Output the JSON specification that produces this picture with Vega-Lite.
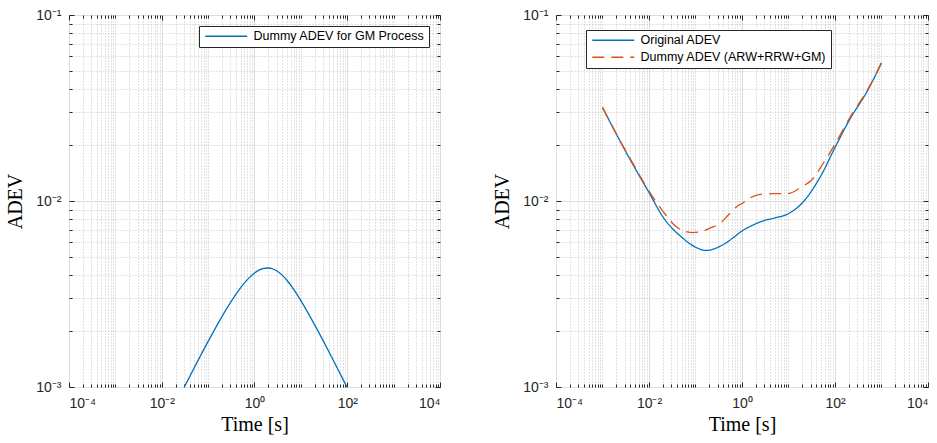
{
  "$schema": "https://vega.github.io/schema/vega-lite/v6.json",
  "background": "white",
  "padding": {"left": 5, "top": 7, "right": 5, "bottom": 5},
  "spacing": 51,
  "datasets": {
    "gm": [
      {"tau": 0.01, "adev": 0.000575, "series": "Dummy ADEV for GM Process"},
      {"tau": 0.02, "adev": 0.00081, "series": "Dummy ADEV for GM Process"},
      {"tau": 0.03, "adev": 0.000989, "series": "Dummy ADEV for GM Process"},
      {"tau": 0.05, "adev": 0.001267, "series": "Dummy ADEV for GM Process"},
      {"tau": 0.1, "adev": 0.001758, "series": "Dummy ADEV for GM Process"},
      {"tau": 0.2, "adev": 0.002399, "series": "Dummy ADEV for GM Process"},
      {"tau": 0.3, "adev": 0.002834, "series": "Dummy ADEV for GM Process"},
      {"tau": 0.5, "adev": 0.003413, "series": "Dummy ADEV for GM Process"},
      {"tau": 0.7, "adev": 0.003776, "series": "Dummy ADEV for GM Process"},
      {"tau": 1, "adev": 0.0041, "series": "Dummy ADEV for GM Process"},
      {"tau": 1.5, "adev": 0.004328, "series": "Dummy ADEV for GM Process"},
      {"tau": 2, "adev": 0.004363, "series": "Dummy ADEV for GM Process"},
      {"tau": 2.5, "adev": 0.00431, "series": "Dummy ADEV for GM Process"},
      {"tau": 3, "adev": 0.004214, "series": "Dummy ADEV for GM Process"},
      {"tau": 4, "adev": 0.003982, "series": "Dummy ADEV for GM Process"},
      {"tau": 5, "adev": 0.003749, "series": "Dummy ADEV for GM Process"},
      {"tau": 7, "adev": 0.003351, "series": "Dummy ADEV for GM Process"},
      {"tau": 10, "adev": 0.002916, "series": "Dummy ADEV for GM Process"},
      {"tau": 20, "adev": 0.002151, "series": "Dummy ADEV for GM Process"},
      {"tau": 30, "adev": 0.00178, "series": "Dummy ADEV for GM Process"},
      {"tau": 50, "adev": 0.001393, "series": "Dummy ADEV for GM Process"},
      {"tau": 100, "adev": 0.000992, "series": "Dummy ADEV for GM Process"},
      {"tau": 200, "adev": 0.000704, "series": "Dummy ADEV for GM Process"}
    ],
    "cmp": [
      {"tau": 0.001, "adev": 0.0318, "series": "Original ADEV"},
      {"tau": 0.002, "adev": 0.0228, "series": "Original ADEV"},
      {"tau": 0.005, "adev": 0.015, "series": "Original ADEV"},
      {"tau": 0.01, "adev": 0.0111, "series": "Original ADEV"},
      {"tau": 0.02, "adev": 0.0082, "series": "Original ADEV"},
      {"tau": 0.05, "adev": 0.0064, "series": "Original ADEV"},
      {"tau": 0.1, "adev": 0.00565, "series": "Original ADEV"},
      {"tau": 0.17, "adev": 0.00542, "series": "Original ADEV"},
      {"tau": 0.3, "adev": 0.00563, "series": "Original ADEV"},
      {"tau": 0.5, "adev": 0.00605, "series": "Original ADEV"},
      {"tau": 0.7, "adev": 0.00645, "series": "Original ADEV"},
      {"tau": 1, "adev": 0.0069, "series": "Original ADEV"},
      {"tau": 1.5, "adev": 0.0073, "series": "Original ADEV"},
      {"tau": 2, "adev": 0.00755, "series": "Original ADEV"},
      {"tau": 3, "adev": 0.00785, "series": "Original ADEV"},
      {"tau": 5, "adev": 0.0081, "series": "Original ADEV"},
      {"tau": 10, "adev": 0.00855, "series": "Original ADEV"},
      {"tau": 20, "adev": 0.0098, "series": "Original ADEV"},
      {"tau": 50, "adev": 0.0137, "series": "Original ADEV"},
      {"tau": 100, "adev": 0.0194, "series": "Original ADEV"},
      {"tau": 200, "adev": 0.027, "series": "Original ADEV"},
      {"tau": 500, "adev": 0.0392, "series": "Original ADEV"},
      {"tau": 1000, "adev": 0.0552, "series": "Original ADEV"},
      {"tau": 0.001, "adev": 0.0319, "series": "Dummy ADEV (ARW+RRW+GM)"},
      {"tau": 0.002, "adev": 0.0229, "series": "Dummy ADEV (ARW+RRW+GM)"},
      {"tau": 0.005, "adev": 0.0152, "series": "Dummy ADEV (ARW+RRW+GM)"},
      {"tau": 0.01, "adev": 0.0113, "series": "Dummy ADEV (ARW+RRW+GM)"},
      {"tau": 0.02, "adev": 0.0088, "series": "Dummy ADEV (ARW+RRW+GM)"},
      {"tau": 0.04, "adev": 0.00722, "series": "Dummy ADEV (ARW+RRW+GM)"},
      {"tau": 0.087, "adev": 0.00676, "series": "Dummy ADEV (ARW+RRW+GM)"},
      {"tau": 0.15, "adev": 0.0069, "series": "Dummy ADEV (ARW+RRW+GM)"},
      {"tau": 0.2, "adev": 0.00713, "series": "Dummy ADEV (ARW+RRW+GM)"},
      {"tau": 0.35, "adev": 0.00764, "series": "Dummy ADEV (ARW+RRW+GM)"},
      {"tau": 0.5, "adev": 0.00838, "series": "Dummy ADEV (ARW+RRW+GM)"},
      {"tau": 0.8, "adev": 0.0094, "series": "Dummy ADEV (ARW+RRW+GM)"},
      {"tau": 1, "adev": 0.0097, "series": "Dummy ADEV (ARW+RRW+GM)"},
      {"tau": 1.4, "adev": 0.0103, "series": "Dummy ADEV (ARW+RRW+GM)"},
      {"tau": 2, "adev": 0.01072, "series": "Dummy ADEV (ARW+RRW+GM)"},
      {"tau": 3, "adev": 0.0109, "series": "Dummy ADEV (ARW+RRW+GM)"},
      {"tau": 5, "adev": 0.01095, "series": "Dummy ADEV (ARW+RRW+GM)"},
      {"tau": 10, "adev": 0.01097, "series": "Dummy ADEV (ARW+RRW+GM)"},
      {"tau": 20, "adev": 0.012, "series": "Dummy ADEV (ARW+RRW+GM)"},
      {"tau": 30, "adev": 0.0128, "series": "Dummy ADEV (ARW+RRW+GM)"},
      {"tau": 60, "adev": 0.0164, "series": "Dummy ADEV (ARW+RRW+GM)"},
      {"tau": 100, "adev": 0.0202, "series": "Dummy ADEV (ARW+RRW+GM)"},
      {"tau": 200, "adev": 0.0276, "series": "Dummy ADEV (ARW+RRW+GM)"},
      {"tau": 500, "adev": 0.0396, "series": "Dummy ADEV (ARW+RRW+GM)"},
      {"tau": 1000, "adev": 0.0554, "series": "Dummy ADEV (ARW+RRW+GM)"}
    ]
  },
  "hconcat": [
    {
      "width": 371,
      "height": 372,
      "layer": [
        {
          "data": {"name": "gm"},
          "mark": {"type": "line", "opacity": 0},
          "encoding": {
            "x": {"field": "tau", "type": "quantitative", "scale": {"type": "log", "domain": [0.0001, 10000], "nice": false},
              "axis": {"orient": "bottom", "values": [0.0002,0.0003,0.0004,0.0005,0.0006,0.0007,0.0008,0.0009,0.001,0.002,0.003,0.004,0.005,0.006,0.007,0.008,0.009,0.02,0.03,0.04,0.05,0.06,0.07,0.08,0.09,0.1,0.2,0.3,0.4,0.5,0.6,0.7,0.8,0.9,2,3,4,5,6,7,8,9,10,20,30,40,50,60,70,80,90,200,300,400,500,600,700,800,900,1000,2000,3000,4000,5000,6000,7000,8000,9000], "grid": true, "gridDash": [1, 2], "gridColor": "#c4c4c4", "labels": false, "tickSize": -3, "title": null}},
            "y": {"field": "adev", "type": "quantitative", "scale": {"type": "log", "domain": [0.001, 0.1], "nice": false},
              "axis": {"orient": "left", "values": [0.002,0.003,0.004,0.005,0.006,0.007,0.008,0.009,0.02,0.03,0.04,0.05,0.06,0.07,0.08,0.09], "grid": true, "gridDash": [1, 2], "gridColor": "#c4c4c4", "labels": false, "tickSize": -3, "title": null}}
          }
        },
        {
          "data": {"name": "gm"},
          "mark": {"type": "line", "opacity": 0},
          "encoding": {
            "x": {"field": "tau", "type": "quantitative",
              "axis": {"orient": "bottom", "values": [0.0001, 0.01, 1, 100, 10000], "grid": true, "gridColor": "#dedede", "tickSize": -5, "labelPadding": 14, "labelExpr": "'10' + (datum.value < 1 ? '⁻' : '') + ['⁰','¹','²','³','⁴'][abs(round(log(datum.value)/LN10))]", "title": "Time [s]", "titlePadding": 4}},
            "y": {"field": "adev", "type": "quantitative",
              "axis": {"orient": "left", "values": [0.001, 0.01, 0.1], "grid": true, "gridColor": "#dedede", "tickSize": -5, "labelPadding": 13, "labelExpr": "'10' + (datum.value < 1 ? '⁻' : '') + ['⁰','¹','²','³','⁴'][abs(round(log(datum.value)/LN10))]", "title": "ADEV", "titlePadding": 10}}
          }
        },
        {
          "data": {"name": "gm"},
          "mark": {"type": "line", "opacity": 0},
          "encoding": {
            "x": {"field": "tau", "type": "quantitative",
              "axis": {"orient": "top", "values": [0.0002,0.0003,0.0004,0.0005,0.0006,0.0007,0.0008,0.0009,0.001,0.002,0.003,0.004,0.005,0.006,0.007,0.008,0.009,0.02,0.03,0.04,0.05,0.06,0.07,0.08,0.09,0.1,0.2,0.3,0.4,0.5,0.6,0.7,0.8,0.9,2,3,4,5,6,7,8,9,10,20,30,40,50,60,70,80,90,200,300,400,500,600,700,800,900,1000,2000,3000,4000,5000,6000,7000,8000,9000], "grid": false, "labels": false, "tickSize": -3, "title": null}},
            "y": {"field": "adev", "type": "quantitative",
              "axis": {"orient": "right", "values": [0.002,0.003,0.004,0.005,0.006,0.007,0.008,0.009,0.02,0.03,0.04,0.05,0.06,0.07,0.08,0.09], "grid": false, "labels": false, "tickSize": -3, "title": null}}
          }
        },
        {
          "data": {"name": "gm"},
          "mark": {"type": "line", "opacity": 0},
          "encoding": {
            "x": {"field": "tau", "type": "quantitative",
              "axis": {"orient": "top", "values": [0.0001, 0.01, 1, 100, 10000], "grid": false, "labels": false, "tickSize": -5, "title": null}},
            "y": {"field": "adev", "type": "quantitative",
              "axis": {"orient": "right", "values": [0.001, 0.01, 0.1], "grid": false, "labels": false, "tickSize": -5, "title": null}}
          }
        },
        {
          "data": {"name": "gm"},
          "mark": {"type": "line", "clip": true, "strokeWidth": 1.3, "interpolate": "monotone"},
          "encoding": {
            "x": {"field": "tau", "type": "quantitative", "axis": null},
            "y": {"field": "adev", "type": "quantitative", "axis": null},
            "color": {"field": "series", "type": "nominal",
              "scale": {"domain": ["Dummy ADEV for GM Process"], "range": ["#0072BD"]},
              "legend": {"orient": "none", "legendX": 130, "legendY": 11, "title": null, "symbolType": "M-0.8,0H7.6", "symbolSize": 100, "symbolStrokeWidth": 1.3, "labelFontSize": 12.5, "labelFont": "Liberation Sans", "labelColor": "#000000", "padding": 4, "strokeColor": "#262626", "fillColor": "white", "labelOffset": 38, "labelLimit": 400}}
          }
        }
      ],
      "resolve": {"axis": {"x": "independent", "y": "independent"}}
    },
    {
      "width": 372,
      "height": 372,
      "layer": [
        {
          "data": {"name": "cmp"},
          "mark": {"type": "line", "opacity": 0},
          "encoding": {
            "x": {"field": "tau", "type": "quantitative", "scale": {"type": "log", "domain": [0.0001, 10000], "nice": false},
              "axis": {"orient": "bottom", "values": [0.0002,0.0003,0.0004,0.0005,0.0006,0.0007,0.0008,0.0009,0.001,0.002,0.003,0.004,0.005,0.006,0.007,0.008,0.009,0.02,0.03,0.04,0.05,0.06,0.07,0.08,0.09,0.1,0.2,0.3,0.4,0.5,0.6,0.7,0.8,0.9,2,3,4,5,6,7,8,9,10,20,30,40,50,60,70,80,90,200,300,400,500,600,700,800,900,1000,2000,3000,4000,5000,6000,7000,8000,9000], "grid": true, "gridDash": [1, 2], "gridColor": "#c4c4c4", "labels": false, "tickSize": -3, "title": null}},
            "y": {"field": "adev", "type": "quantitative", "scale": {"type": "log", "domain": [0.001, 0.1], "nice": false},
              "axis": {"orient": "left", "values": [0.002,0.003,0.004,0.005,0.006,0.007,0.008,0.009,0.02,0.03,0.04,0.05,0.06,0.07,0.08,0.09], "grid": true, "gridDash": [1, 2], "gridColor": "#c4c4c4", "labels": false, "tickSize": -3, "title": null}}
          }
        },
        {
          "data": {"name": "cmp"},
          "mark": {"type": "line", "opacity": 0},
          "encoding": {
            "x": {"field": "tau", "type": "quantitative",
              "axis": {"orient": "bottom", "values": [0.0001, 0.01, 1, 100, 10000], "grid": true, "gridColor": "#dedede", "tickSize": -5, "labelPadding": 14, "labelExpr": "'10' + (datum.value < 1 ? '⁻' : '') + ['⁰','¹','²','³','⁴'][abs(round(log(datum.value)/LN10))]", "title": "Time [s]", "titlePadding": 4}},
            "y": {"field": "adev", "type": "quantitative",
              "axis": {"orient": "left", "values": [0.001, 0.01, 0.1], "grid": true, "gridColor": "#dedede", "tickSize": -5, "labelPadding": 13, "labelExpr": "'10' + (datum.value < 1 ? '⁻' : '') + ['⁰','¹','²','³','⁴'][abs(round(log(datum.value)/LN10))]", "title": "ADEV", "titlePadding": 10}}
          }
        },
        {
          "data": {"name": "cmp"},
          "mark": {"type": "line", "opacity": 0},
          "encoding": {
            "x": {"field": "tau", "type": "quantitative",
              "axis": {"orient": "top", "values": [0.0002,0.0003,0.0004,0.0005,0.0006,0.0007,0.0008,0.0009,0.001,0.002,0.003,0.004,0.005,0.006,0.007,0.008,0.009,0.02,0.03,0.04,0.05,0.06,0.07,0.08,0.09,0.1,0.2,0.3,0.4,0.5,0.6,0.7,0.8,0.9,2,3,4,5,6,7,8,9,10,20,30,40,50,60,70,80,90,200,300,400,500,600,700,800,900,1000,2000,3000,4000,5000,6000,7000,8000,9000], "grid": false, "labels": false, "tickSize": -3, "title": null}},
            "y": {"field": "adev", "type": "quantitative",
              "axis": {"orient": "right", "values": [0.002,0.003,0.004,0.005,0.006,0.007,0.008,0.009,0.02,0.03,0.04,0.05,0.06,0.07,0.08,0.09], "grid": false, "labels": false, "tickSize": -3, "title": null}}
          }
        },
        {
          "data": {"name": "cmp"},
          "mark": {"type": "line", "opacity": 0},
          "encoding": {
            "x": {"field": "tau", "type": "quantitative",
              "axis": {"orient": "top", "values": [0.0001, 0.01, 1, 100, 10000], "grid": false, "labels": false, "tickSize": -5, "title": null}},
            "y": {"field": "adev", "type": "quantitative",
              "axis": {"orient": "right", "values": [0.001, 0.01, 0.1], "grid": false, "labels": false, "tickSize": -5, "title": null}}
          }
        },
        {
          "data": {"name": "cmp"},
          "mark": {"type": "line", "clip": true, "strokeWidth": 1.3, "interpolate": "monotone"},
          "encoding": {
            "x": {"field": "tau", "type": "quantitative", "axis": null},
            "y": {"field": "adev", "type": "quantitative", "axis": null},
            "color": {"field": "series", "type": "nominal",
              "scale": {"domain": ["Original ADEV", "Dummy ADEV (ARW+RRW+GM)"], "range": ["#0072BD", "#D95319"]},
              "legend": {"orient": "none", "legendX": 30, "legendY": 15, "title": null, "symbolType": "M-0.8,0H7.6", "symbolSize": 100, "symbolStrokeWidth": 1.3, "labelFontSize": 12.5, "labelFont": "Liberation Sans", "labelColor": "#000000", "padding": 4, "strokeColor": "#262626", "fillColor": "white", "labelOffset": 38, "labelLimit": 400, "rowPadding": 4}},
            "strokeDash": {"field": "series", "type": "nominal",
              "scale": {"domain": ["Original ADEV", "Dummy ADEV (ARW+RRW+GM)"], "range": [[1, 0], [12, 7]]},
              "legend": {"orient": "none", "legendX": 30, "legendY": 15, "title": null, "symbolType": "M-0.8,0H7.6", "symbolSize": 100, "symbolStrokeWidth": 1.3, "labelFontSize": 12.5, "labelFont": "Liberation Sans", "labelColor": "#000000", "padding": 4, "strokeColor": "#262626", "fillColor": "white", "labelOffset": 38, "labelLimit": 400, "rowPadding": 4}}
          }
        }
      ],
      "resolve": {"axis": {"x": "independent", "y": "independent"}}
    }
  ],
  "resolve": {"scale": {"color": "independent", "strokeDash": "independent"}, "legend": {"color": "independent", "strokeDash": "independent"}},
  "config": {
    "view": {"stroke": "#262626", "strokeWidth": 1},
    "axis": {"labelFont": "Liberation Sans", "labelFontSize": 14, "labelColor": "#262626", "titleFont": "Liberation Serif", "titleFontSize": 20, "titleFontWeight": "normal", "titleColor": "#000000", "domain": false, "tickColor": "#262626", "gridWidth": 1}
  }
}
